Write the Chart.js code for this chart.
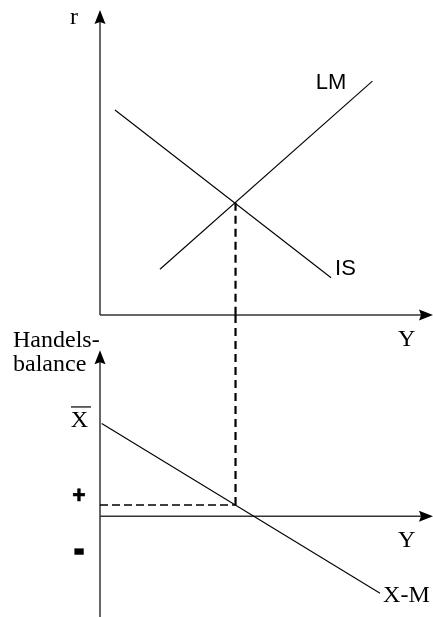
<!DOCTYPE html>
<html><head><meta charset="utf-8">
<script src="https://cdn.jsdelivr.net/npm/chart.js@4"></script>
<style>html,body{margin:0;padding:0;background:#fff}#wrap{position:relative;width:433px;height:617px}</style>
</head><body><div id="wrap"><canvas id="c"></canvas></div>
<script>
// ---- IS-LM panel (income Y, interest rate r) ----
const isCurve = [[0.45, 6.72], [6.94, 1.22]];
const lmCurve = [[1.80, 1.50], [8.18, 7.67]];
// ---- Trade balance panel (income Y, X-M) ----
const xmCurve = [[0.05, 3.69], [8.41, -3.06]];
const equilibriumY = 4.07;
const equilibriumR = 3.68;
const tradeBalanceAtEq = 0.45;
// tick labels on the trade-balance axis
const tbTickLabels = ['X', '+', '-'];
const tbTickValues = [3.85, 0.77, -1.40];
const tbTickOverbar = [true, false, false];
// texts
const curveLabels = ['IS', 'LM', 'X-M'];
const axisLabels = ['r', 'Y', 'Handels-', 'balance', 'Y'];
// axis ranges
const yRange = [0, 10];
const rRange = [0, 10];
const tbRange = [-4, 8];
const tbAxisTop = 6.6;

const pts = a => a.map(([x, y]) => ({x, y}));
const AXIS = '#333';
const SERIF = '24px "Liberation Serif", "Times New Roman", serif';
const SANS = '22px "Liberation Sans", Arial, sans-serif';

function arrow(ctx, tx, ty, dx, dy) {
  const L = 14, W = 5.5, N = 2, px = -dy, py = dx;
  ctx.beginPath();
  ctx.moveTo(tx, ty);
  ctx.lineTo(tx - dx * L + px * W, ty - dy * L + py * W);
  ctx.lineTo(tx - dx * (L - N), ty - dy * (L - N));
  ctx.lineTo(tx - dx * L - px * W, ty - dy * L - py * W);
  ctx.closePath();
  ctx.fill();
}
function seg(ctx, a, b, c, d) { ctx.beginPath(); ctx.moveTo(a, b); ctx.lineTo(c, d); ctx.stroke(); }

const overlay = {
  id: 'overlay',
  beforeDatasetsDraw(chart) {
    const {ctx, scales: {x, yR, yTB}} = chart;
    const x0 = x.getPixelForValue(yRange[0]);
    const xEnd = x.getPixelForValue(yRange[1]);
    ctx.save();
    ctx.strokeStyle = AXIS; ctx.fillStyle = '#000'; ctx.lineWidth = 1.5;
    const rTop = yR.getPixelForValue(rRange[1]);
    const rZero = yR.getPixelForValue(rRange[0]);
    seg(ctx, x0, rZero, x0, rTop + 8); arrow(ctx, x0, rTop, 0, -1);
    seg(ctx, x0, rZero, xEnd - 8, rZero); arrow(ctx, xEnd, rZero, 1, 0);
    const tbTop = yTB.getPixelForValue(tbAxisTop);
    const tbBottom = yTB.getPixelForValue(tbRange[0]);
    const tbZero = yTB.getPixelForValue(0);
    seg(ctx, x0, tbBottom, x0, tbTop + 8); arrow(ctx, x0, tbTop, 0, -1);
    seg(ctx, x0, tbZero, xEnd - 8, tbZero); arrow(ctx, xEnd, tbZero, 1, 0);
    ctx.restore();
  },
  afterDatasetsDraw(chart) {
    const {ctx, scales: {x, yR, yTB}} = chart;
    const x0 = x.getPixelForValue(yRange[0]);
    const xEnd = x.getPixelForValue(yRange[1]);
    const rTop = yR.getPixelForValue(rRange[1]);
    const rZero = yR.getPixelForValue(rRange[0]);
    const tbTop = yTB.getPixelForValue(tbAxisTop);
    const tbZero = yTB.getPixelForValue(0);
    ctx.save();
    ctx.fillStyle = '#000'; ctx.strokeStyle = '#000';
    ctx.textBaseline = 'alphabetic';
    // axis labels
    ctx.font = SERIF;
    ctx.textAlign = 'right'; ctx.fillText(axisLabels[0], x0 - 22, rTop + 14);
    ctx.textAlign = 'left';
    ctx.fillText(axisLabels[1], xEnd - 35, rZero + 31);
    ctx.fillText(axisLabels[2], x0 - 87, tbTop - 3);
    ctx.fillText(axisLabels[3], x0 - 87, tbTop + 21);
    ctx.fillText(axisLabels[4], xEnd - 35, tbZero + 31);
    // curve labels
    ctx.font = SANS;
    const isEnd = isCurve[isCurve.length - 1], lmEnd = lmCurve[lmCurve.length - 1], xmEnd = xmCurve[xmCurve.length - 1];
    ctx.textAlign = 'left';
    ctx.fillText(curveLabels[0], x.getPixelForValue(isEnd[0]) + 4, yR.getPixelForValue(isEnd[1]) - 3);
    ctx.textAlign = 'right';
    ctx.fillText(curveLabels[1], x.getPixelForValue(lmEnd[0]) - 26, yR.getPixelForValue(lmEnd[1]) + 8);
    ctx.font = SERIF; ctx.textAlign = 'left';
    ctx.fillText(curveLabels[2], x.getPixelForValue(xmEnd[0]) + 3, yTB.getPixelForValue(xmEnd[1]) + 9);
    // trade balance tick labels
    tbTickLabels.forEach((lab, i) => {
      const p = yTB.getPixelForValue(tbTickValues[i]);
      if (tbTickOverbar[i]) {
        ctx.font = SERIF; ctx.textAlign = 'right'; ctx.textBaseline = 'alphabetic';
        ctx.fillText(lab, x0 - 12, p + 7.5);
        ctx.lineWidth = 1.2; seg(ctx, x0 - 29, p - 12.5, x0 - 9, p - 12.5);
      } else {
        ctx.font = 'bold 23px "Liberation Sans", Arial, sans-serif';
        ctx.textAlign = 'center'; ctx.textBaseline = 'middle';
        ctx.lineWidth = lab === '-' ? 3.5 : 0.6;
        ctx.fillText(lab, x0 - 21, p);
        ctx.strokeText(lab, x0 - 21, p);
        ctx.textBaseline = 'alphabetic';
      }
    });
    ctx.restore();
  }
};

const line = (data, yAxisID, extra = {}) => Object.assign({
  data, yAxisID, xAxisID: 'x', showLine: true, pointRadius: 0, borderColor: '#000', borderWidth: 1.1, fill: false
}, extra);

new Chart(document.getElementById('c'), {
  type: 'scatter',
  data: {
    datasets: [
      line(pts(isCurve), 'yR'),
      line(pts(lmCurve), 'yR'),
      line([{x: equilibriumY, y: equilibriumR}, {x: equilibriumY, y: rRange[0]}], 'yR', {borderDash: [8, 5], borderWidth: 2.2}),
      line([{x: equilibriumY, y: tbRange[1]}, {x: equilibriumY, y: tradeBalanceAtEq}], 'yTB', {borderDash: [8, 5], borderWidth: 2.2}),
      line([{x: yRange[0], y: tradeBalanceAtEq}, {x: equilibriumY, y: tradeBalanceAtEq}], 'yTB', {borderDash: [8, 4], borderWidth: 1.3}),
      line(pts(xmCurve), 'yTB')
    ]
  },
  options: {
    responsive: true, maintainAspectRatio: false, animation: false, events: [],
    layout: {padding: {left: 100, right: 0, top: 10, bottom: 0}},
    plugins: {legend: {display: false}, tooltip: {enabled: false}},
    scales: {
      x: {type: 'linear', min: yRange[0], max: yRange[1], display: false},
      yR: {type: 'linear', position: 'left', stack: 'v', stackWeight: 305, weight: 1, min: rRange[0], max: rRange[1], display: false},
      yTB: {type: 'linear', position: 'left', stack: 'v', stackWeight: 302, weight: 0, min: tbRange[0], max: tbRange[1], display: false}
    }
  },
  plugins: [overlay]
});
</script></body></html>
